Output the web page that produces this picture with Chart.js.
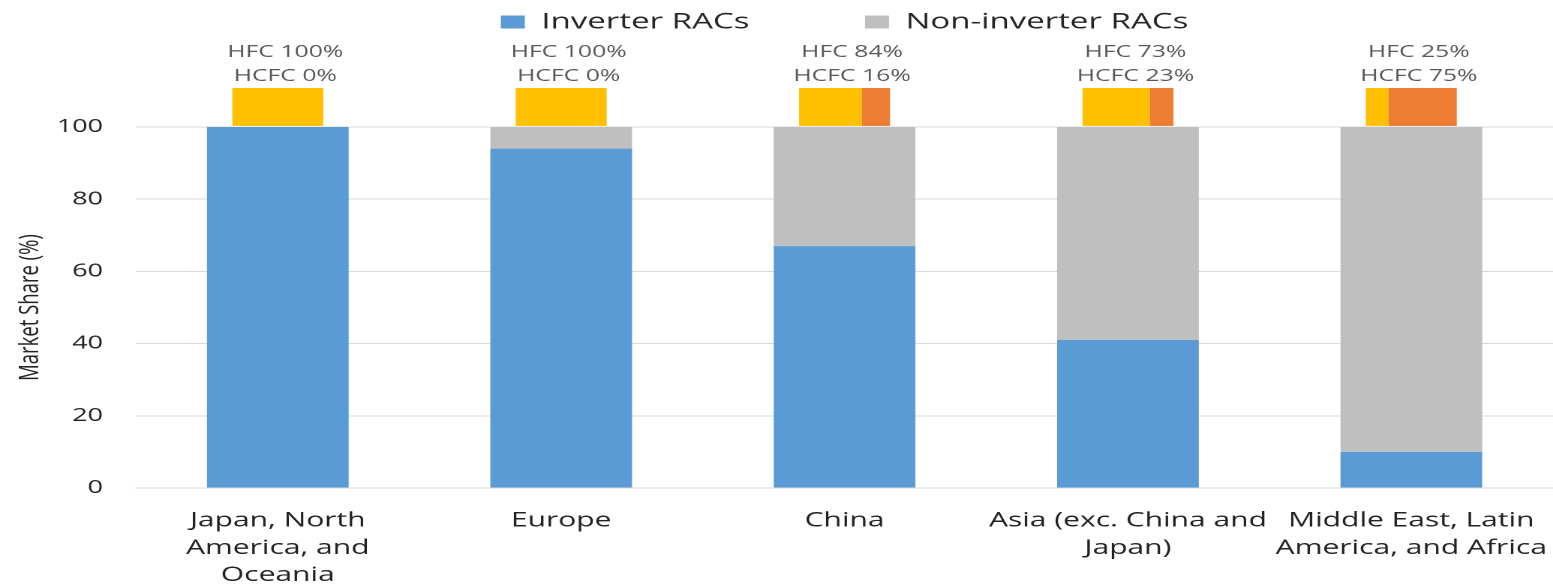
<!DOCTYPE html>
<html>
<head>
<meta charset="utf-8">
<script src="https://cdn.jsdelivr.net/npm/chart.js@4.4.1/dist/chart.umd.min.js"></script>
<style>
  html, body { margin: 0; padding: 0; background: #fff; overflow: hidden; }
  /* source picture is stretched sideways: lay out narrow, then stretch to 1553px */
  #wrap { width: 1035px; height: 585px; transform: scaleX(1.5005); transform-origin: 0 0; }
</style>
</head>
<body>
<div id="wrap"><canvas id="chart"></canvas></div>
<script>
// --- DATA ---
const regions = [
    ['Japan, North', 'America, and', 'Oceania'],
    ['Europe'],
    ['China'],
    ['Asia (exc. China and', 'Japan)'],
    ['Middle East, Latin', 'America, and Africa']
];
const inverter = [100, 94, 67, 41, 10];
const nonInverter = [0, 6, 33, 59, 90];
const hfcLabel = [100, 100, 84, 73, 25];
const hcfcLabel = [0, 0, 16, 23, 75];
// HFC part of the small bar as it is drawn in the source (China is not drawn to 84)
const hfcDrawn = [100, 100, 69, 74, 25];
const yTickStep = 20;

// --- STYLE ---
const BLUE = '#5B9BD5', GREY = '#BFBFBF', YELLOW = '#FFC000', ORANGE = '#ED7D31';
const FONT = '"Open Sans", "DejaVu Sans", sans-serif';
Chart.defaults.font.family = FONT;
Chart.defaults.color = '#222222';

// small HFC / HCFC bar + its two text lines above every region
const refrigerantBars = {
    id: 'refrigerantBars',
    afterDatasetsDraw(chart) {
        const { ctx, scales: { x, y } } = chart;
        const w = (x.width / regions.length) * 0.321;
        const top = y.getPixelForValue(110.8);
        const bottom = y.getPixelForValue(100.3);
        ctx.save();
        ctx.font = `16.5px ${FONT}`;
        ctx.textAlign = 'center';
        ctx.textBaseline = 'alphabetic';
        regions.forEach((_, i) => {
            const cx = x.getPixelForValue(i);
            const left = cx - w / 2;
            const split = w * hfcDrawn[i] / 100;
            ctx.fillStyle = YELLOW;
            ctx.fillRect(left, top, split, bottom - top);
            ctx.fillStyle = ORANGE;
            ctx.fillRect(left + split, top, w - split, bottom - top);
            ctx.fillStyle = '#595959';
            ctx.fillText(`HFC ${hfcLabel[i]}%`, cx + 5, top - 31);
            ctx.fillText(`HCFC ${hcfcLabel[i]}%`, cx + 5, top - 7);
        });
        ctx.restore();
    }
};

new Chart(document.getElementById('chart'), {
    type: 'bar',
    data: {
        labels: regions,
        datasets: [
            { label: 'Inverter RACs', data: inverter, backgroundColor: BLUE },
            { label: 'Non-inverter RACs', data: nonInverter, backgroundColor: GREY }
        ]
    },
    options: {
        animation: false,
        responsive: true,
        maintainAspectRatio: false,
        devicePixelRatio: 2,
        // legend padding also sets the gap between items, so pull it up
        layout: { padding: { top: -66, left: 0, right: 0, bottom: 0 } },
        datasets: { bar: { categoryPercentage: 1, barPercentage: 0.5 } },
        plugins: {
            legend: {
                position: 'top',
                fullSize: false,
                labels: {
                    boxWidth: 16,
                    boxHeight: 13,
                    padding: 77,
                    color: '#262626',
                    font: { size: 22 }
                }
            },
            tooltip: { enabled: false }
        },
        scales: {
            x: {
                stacked: true,
                grid: { display: false },
                border: { display: true, color: '#D9D9D9', width: 1 },
                ticks: {
                    padding: 11,
                    maxRotation: 0,
                    minRotation: 0,
                    autoSkip: false,
                    font: { size: 20, lineHeight: 1.37 },
                    color: '#222222'
                },
                // no side padding for the wide last label, plot runs to the edge
                afterFit: (s) => { s.height = 97; s.paddingLeft = 0; s.paddingRight = 0; }
            },
            // empty axis that only keeps room for the HFC / HCFC bars
            xTop: {
                type: 'category',
                position: 'top',
                grid: { display: false },
                border: { display: false },
                ticks: { display: false },
                afterFit: (s) => { s.height = 84; }
            },
            y: {
                stacked: true,
                min: 0,
                max: 100,
                grid: { color: '#D9D9D9', lineWidth: 1, drawTicks: false },
                border: { display: false },
                ticks: { stepSize: yTickStep, padding: 22, font: { size: 18 }, color: '#222222' },
                title: {
                    display: true,
                    text: 'Market Share (%)',
                    font: { size: 18.5 },
                    color: '#222222',
                    padding: { top: 9, bottom: 0 }
                },
                afterFit: (s) => { s.width = 90.7; }
            }
        }
    },
    plugins: [refrigerantBars]
});
</script>
</body>
</html>
